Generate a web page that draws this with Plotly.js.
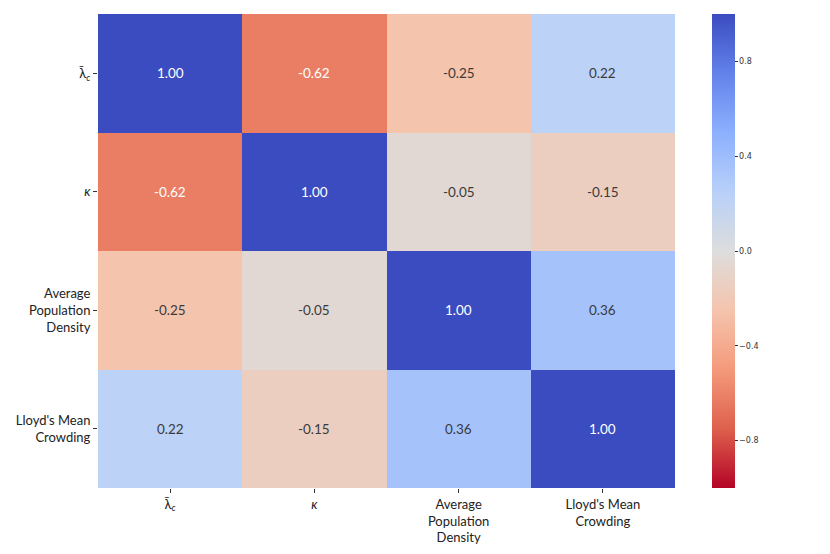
<!DOCTYPE html>
<html>
<head>
<meta charset="utf-8">
<script src="https://cdn.plot.ly/plotly-3.0.1.min.js"></script>
<style>html,body{margin:0;padding:0;background:#fff;}#chart{width:830px;height:554px;}</style>
</head>
<body>
<div id="chart"></div>
<script>
const labels = ["λ̄<sub><i>c</i></sub>", "<i>κ</i>", "Average<br>Population<br>Density", "Lloyd's Mean<br>Crowding"];
const corr = [
  [1.00, -0.62, -0.25, 0.22],
  [-0.62, 1.00, -0.05, -0.15],
  [-0.25, -0.05, 1.00, 0.36],
  [0.22, -0.15, 0.36, 1.00]
];
const colorbarTicks = [-0.8, -0.4, 0.0, 0.4, 0.8];
const colorbarTickText = ["−0.8", "−0.4", "0.0", "0.4", "0.8"];

const coolwarmR = [
  [0.0, "rgb(180,4,38)"],
  [0.125, "rgb(222,96,77)"],
  [0.25, "rgb(244,154,123)"],
  [0.375, "rgb(245,196,173)"],
  [0.5, "rgb(221,221,221)"],
  [0.625, "rgb(184,208,249)"],
  [0.75, "rgb(141,176,254)"],
  [0.875, "rgb(98,130,234)"],
  [1.0, "rgb(59,76,192)"]
];

const idx = labels.map((_, i) => i);
const trace = {
  type: "heatmap",
  z: corr,
  x: idx,
  y: idx,
  zmin: -1, zmax: 1,
  colorscale: coolwarmR,
  xgap: 0, ygap: 0,
  hoverinfo: "skip",
  colorbar: {
    x: 1.064, xanchor: "left", xref: "paper", xpad: 0, ypad: 0,
    y: 0.5, yanchor: "middle", len: 1, lenmode: "fraction",
    thickness: 23, outlinewidth: 0,
    tickmode: "array", tickvals: colorbarTicks, ticktext: colorbarTickText,
    ticks: "outside", ticklen: 3, tickwidth: 1, tickcolor: "#333",
    tickfont: {family: "DejaVu Sans", size: 8, color: "#333"}
  }
};

const annotations = [];
corr.forEach((row, i) => row.forEach((v, j) => {
  annotations.push({
    x: j, y: i, xref: "x", yref: "y",
    text: v.toFixed(2), showarrow: false,
    font: {family: "Lato", size: 13.5, color: Math.abs(v) > 0.5 ? "#ffffff" : "#3a3a3a"}
  });
}));

const layout = {
  width: 830, height: 554,
  margin: {l: 98, r: 155, t: 14, b: 66},
  paper_bgcolor: "#fff", plot_bgcolor: "#fff",
  xaxis: {
    tickmode: "array", tickvals: idx, ticktext: labels,
    range: [-0.5, 3.5], showgrid: false, zeroline: false,
    ticks: "outside", ticklen: 4, tickcolor: "#333",
    tickfont: {family: "Lato", size: 13, color: "#222"}
  },
  yaxis: {
    tickmode: "array", tickvals: idx, ticktext: labels,
    range: [3.5, -0.5], showgrid: false, zeroline: false,
    ticks: "outside", ticklen: 4, tickcolor: "#333",
    tickfont: {family: "Lato", size: 13, color: "#222"}
  },
  annotations: annotations,
  showlegend: false
};

Plotly.newPlot("chart", [trace], layout, {displayModeBar: false, staticPlot: true});
</script>
</body>
</html>
